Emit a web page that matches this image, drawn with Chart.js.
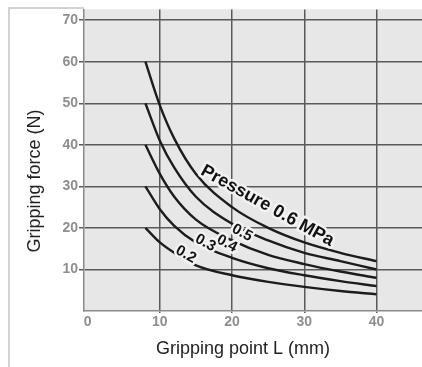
<!DOCTYPE html>
<html>
<head>
<meta charset="utf-8">
<script src="https://cdn.jsdelivr.net/npm/chart.js@4"></script>
<style>
  html, body { margin: 0; padding: 0; background: #fff; }
  #wrap { width: 422px; height: 367px; }
</style>
</head>
<body>
<div id="wrap"><canvas id="grip_chart" width="422" height="367"></canvas></div>
<script>
// --- data ---
const gripPointL = [8, 10, 12, 15, 20, 25, 30, 35, 40];          // mm
const force06 = [60, 49.5, 41.5, 33, 25, 20, 16.5, 14, 12];      // N @ 0.6 MPa
const force05 = [50, 41, 34.5, 27.5, 21, 17, 14, 12, 10];        // N @ 0.5 MPa
const force04 = [40, 33, 27.5, 22, 17, 13.5, 11.3, 9.5, 8];      // N @ 0.4 MPa
const force03 = [30, 24.5, 20.5, 16.5, 12.8, 10.3, 8.6, 7.2, 6]; // N @ 0.3 MPa
const force02 = [20, 16.5, 14, 11, 8.6, 7, 5.8, 4.8, 4];         // N @ 0.2 MPa
const pressureNames = ['0.6', '0.5', '0.4', '0.3', '0.2'];
const xTicks = [0, 10, 20, 30, 40];
const yTicks = [10, 20, 30, 40, 50, 60, 70];

const xTitle = 'Gripping point L (mm)';
const yTitle = 'Gripping force (N)';
const mainLabel = 'Pressure 0.6 MPa';

// label anchors (data coords) for the in-plot curve labels
const curveLabels = [
    { text: mainLabel, x: 24.9, y: 25.3, size: 18 },
    { text: '0.5', x: 21.4, y: 18.8, size: 15 },
    { text: '0.4', x: 19.3, y: 16.2, size: 15 },
    { text: '0.3', x: 16.3, y: 16.4, size: 15 },
    { text: '0.2', x: 13.6, y: 13.6, size: 15 }
];

function toPoints(ys) {
    return gripPointL.map((x, i) => ({ x: x, y: ys[i] }));
}

const allSeries = [force06, force05, force04, force03, force02];
const datasets = allSeries.map((ys, i) => ({
    label: pressureNames[i] + ' MPa',
    data: toPoints(ys),
    borderColor: '#1c1c1c',
    borderWidth: 2.4,
    pointRadius: 0,
    fill: false,
    cubicInterpolationMode: 'monotone'
}));

// light grey plot background + outer frame
const backdrop = {
    id: 'backdrop',
    beforeDraw(chart) {
        const { ctx, chartArea } = chart;
        ctx.save();
        ctx.strokeStyle = '#d2d2d2';
        ctx.lineWidth = 2;
        ctx.beginPath();
        ctx.moveTo(9, 367);
        ctx.lineTo(9, 8);
        ctx.lineTo(chartArea.left, 8);
        ctx.stroke();
        ctx.fillStyle = '#e7e7e7';
        ctx.fillRect(chartArea.left, chartArea.top, chartArea.right - chartArea.left, chartArea.bottom - chartArea.top);
        ctx.restore();
    }
};

// curve labels and axis titles
const annotate = {
    id: 'annotate',
    afterDatasetsDraw(chart) {
        const { ctx, scales } = chart;
        ctx.save();
        curveLabels.forEach(lbl => {
            const px = scales.x.getPixelForValue(lbl.x);
            const py = scales.y.getPixelForValue(lbl.y);
            ctx.save();
            ctx.translate(px, py);
            ctx.rotate(29 * Math.PI / 180);
            ctx.font = 'bold ' + lbl.size + 'px "Liberation Sans", Arial, sans-serif';
            ctx.textAlign = 'center';
            ctx.textBaseline = 'middle';
            ctx.lineJoin = 'round';
            ctx.strokeStyle = '#f2f2f2';
            ctx.lineWidth = 5;
            ctx.strokeText(lbl.text, 0, 0);
            ctx.fillStyle = '#111';
            ctx.fillText(lbl.text, 0, 0);
            ctx.restore();
        });

        ctx.fillStyle = '#222';
        ctx.font = '18px "Liberation Sans", Arial, sans-serif';
        ctx.textAlign = 'center';
        ctx.textBaseline = 'middle';
        ctx.fillText(xTitle, 243, 349);
        ctx.translate(35, 181);
        ctx.rotate(-Math.PI / 2);
        ctx.fillText(yTitle, 0, 0);
        ctx.restore();
    }
};

const tickFont = { family: '"Liberation Sans", Arial, sans-serif', size: 14, weight: 'bold' };

new Chart(document.getElementById('grip_chart'), {
    type: 'line',
    data: { datasets: datasets },
    options: {
        responsive: false,
        devicePixelRatio: 1,
        animation: false,
        layout: { padding: { top: 6, right: 0, left: 0, bottom: 0 } },
        plugins: {
            legend: { display: false },
            tooltip: { enabled: false }
        },
        scales: {
            x: {
                type: 'linear',
                min: -0.5,
                max: 46.3,
                afterBuildTicks: s => { s.ticks = xTicks.map(v => ({ value: v })); },
                afterFit: s => { s.height = 56; },
                grid: {
                    color: c => (c.tick && c.tick.value === 0) ? 'rgba(0,0,0,0)' : '#5a5a5a',
                    lineWidth: 1.5,
                    tickLength: 2
                },
                border: { display: true, color: '#8a8a8a', width: 1.5 },
                ticks: { font: tickFont, color: '#8e8e8e', padding: 1, maxRotation: 0, autoSkip: false }
            },
            y: {
                min: 0,
                max: 72.6,
                afterBuildTicks: s => { s.ticks = yTicks.map(v => ({ value: v })); },
                afterFit: s => { s.width = 84; },
                grid: { color: '#5a5a5a', lineWidth: 1.5, tickLength: 5 },
                border: { display: true, color: '#8a8a8a', width: 1.5 },
                ticks: { font: tickFont, color: '#8e8e8e', padding: 1, autoSkip: false }
            }
        }
    },
    plugins: [backdrop, annotate]
});
</script>
</body>
</html>
